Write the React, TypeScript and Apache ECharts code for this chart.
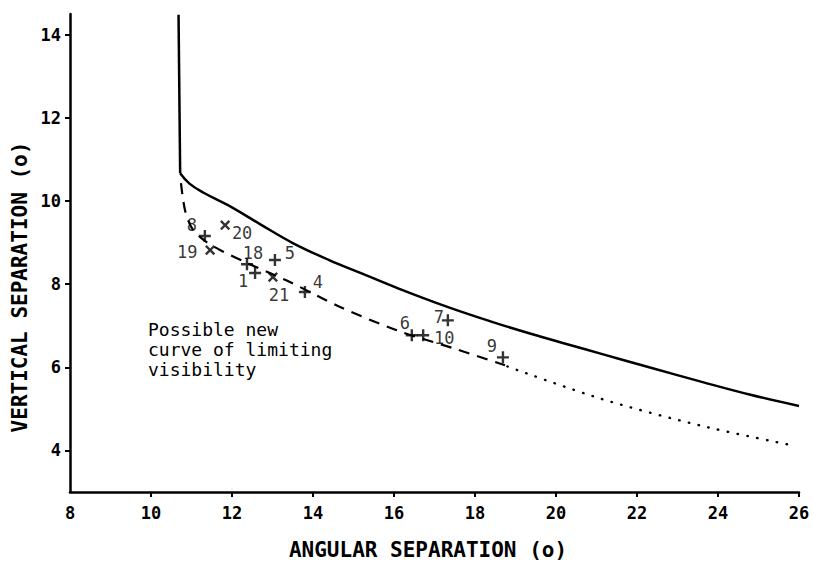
import React, { useEffect, useRef } from "react";
import * as echarts from "echarts";

// Limiting visibility curve (solid): vertical part then curve
const limitVerticalX = [10.68, 10.72];
const limitVerticalY = [14.48, 10.67];
const limitX = [10.72, 10.95, 11.3, 11.9, 12.7, 13.5, 14.4, 15.2, 16.1, 17.3, 18.4, 19.4, 20.3, 21.1, 22.3, 23.6, 24.8, 26.0];
const limitY = [10.67, 10.42, 10.2, 9.9, 9.44, 8.99, 8.58, 8.26, 7.9, 7.46, 7.1, 6.8, 6.55, 6.33, 6.0, 5.65, 5.34, 5.07];

// Possible new curve (dashed)
const newCurveX = [10.74, 10.84, 11.01, 11.33, 11.75, 12.44, 13.43, 14.67, 16.07, 17.46, 18.74];
const newCurveY = [10.43, 9.78, 9.35, 9.04, 8.8, 8.48, 8.05, 7.45, 6.89, 6.46, 6.05];

// Extrapolation (dotted)
const extrapX = [18.8, 21.09, 23.56, 25.85];
const extrapY = [6.02, 5.25, 4.6, 4.12];

// Observations
const pointIds = ["8", "20", "19", "18", "5", "1", "21", "4", "7", "6", "10", "9"];
const pointX = [11.33, 11.83, 11.46, 12.37, 13.06, 12.57, 13.01, 13.8, 17.33, 16.44, 16.72, 18.69];
const pointY = [9.16, 9.42, 8.82, 8.48, 8.58, 8.27, 8.17, 7.81, 7.13, 6.77, 6.77, 6.24];
const pointMark = ["+", "x", "x", "+", "+", "+", "x", "+", "+", "+", "+", "+"];

// Label placement relative to each marker (layout)
const labelOffsets: [number, number][] = [
  [-13, -11], [17, 8], [-23, 2], [6, -11], [15, -7], [-12, 8],
  [6, 18], [13, -10], [-9, -3], [-7, -12], [21, 3], [-11, -11],
];

const xTicks = [8, 10, 12, 14, 16, 18, 20, 22, 24, 26];
const yTicks = [4, 6, 8, 10, 12, 14];

const xTitle = "ANGULAR SEPARATION (o)";
const yTitle = "VERTICAL SEPARATION (o)";
const noteText = "Possible new\ncurve of limiting\nvisibility";

const MONO = "'DejaVu Sans Mono', 'Liberation Mono', monospace";
const PLUS = "path://M4,0L6,0L6,4L10,4L10,6L6,6L6,10L4,10L4,6L0,6L0,4L4,4Z";

const zip = (xs: number[], ys: number[]) => xs.map((x, i) => [x, ys[i]]);

export default function App() {
  const ref = useRef<HTMLDivElement>(null);
  useEffect(() => {
    if (!ref.current) return;
    const chart = echarts.init(ref.current, null, { renderer: "svg" });
    const scatterData = pointIds.map((id, i) => ({
      value: [pointX[i], pointY[i]],
      name: id,
      symbolRotate: pointMark[i] === "x" ? 45 : 0,
      label: { offset: labelOffsets[i] },
    }));
    chart.setOption({
      animation: false,
      backgroundColor: "#fff",
      grid: { left: 70, right: 15, top: 14, bottom: 70 },
      xAxis: {
        type: "value",
        min: 8,
        max: 26,
        interval: 2,
        axisLine: { show: true, onZero: false, lineStyle: { color: "#000", width: 2.5 } },
        axisTick: { show: true, length: 5, lineStyle: { color: "#000", width: 2 }, customValues: xTicks.slice(1) },
        axisLabel: {
          color: "#000",
          fontFamily: MONO,
          fontWeight: "bold",
          fontSize: 17,
          margin: 12,
          showMinLabel: true,
          showMaxLabel: true,
          customValues: xTicks,
        },
        splitLine: { show: false },
      },
      yAxis: {
        type: "value",
        min: 3,
        max: 14.5,
        axisLine: { show: true, onZero: false, lineStyle: { color: "#000", width: 2.5 } },
        axisTick: { show: true, length: 5, lineStyle: { color: "#000", width: 2 }, customValues: yTicks },
        axisLabel: {
          color: "#000",
          fontFamily: MONO,
          fontWeight: "bold",
          fontSize: 17,
          margin: 9,
          customValues: yTicks,
        },
        splitLine: { show: false },
      },
      series: [
        {
          type: "line",
          data: zip(limitVerticalX, limitVerticalY),
          symbol: "none",
          lineStyle: { color: "#000", width: 2.5 },
        },
        {
          type: "line",
          data: zip(limitX, limitY),
          symbol: "none",
          smooth: 0.4,
          lineStyle: { color: "#000", width: 2.5 },
        },
        {
          type: "line",
          data: zip(newCurveX, newCurveY),
          symbol: "none",
          smooth: 0.3,
          lineStyle: { color: "#000", width: 2.2, type: [11, 8] },
        },
        {
          type: "line",
          data: zip(extrapX, extrapY),
          symbol: "none",
          smooth: 0.3,
          lineStyle: { color: "#000", width: 2.4, type: [0.5, 9.5], cap: "round" },
        },
        {
          type: "scatter",
          data: scatterData,
          symbol: PLUS,
          symbolSize: 12,
          itemStyle: { color: "#000" },
          label: {
            show: true,
            position: "inside",
            formatter: (p: any) => p.name,
            color: "#000",
            fontFamily: MONO,
            fontSize: 17,
          },
          z: 5,
        },
      ],
      graphic: [
        {
          type: "text",
          x: 148,
          y: 319,
          style: {
            text: noteText,
            font: `18px ${MONO}`,
            fill: "#000",
            lineHeight: 20,
            verticalAlign: "top",
            align: "left",
          },
        },
        {
          type: "text",
          x: 428,
          y: 550,
          style: {
            text: xTitle,
            font: `bold 21px ${MONO}`,
            fill: "#000",
            align: "center",
            verticalAlign: "middle",
          },
        },
        {
          type: "text",
          x: 20,
          y: 287,
          rotation: Math.PI / 2,
          style: {
            text: yTitle,
            font: `bold 21px ${MONO}`,
            fill: "#000",
            align: "center",
            verticalAlign: "middle",
          },
        },
      ],
    });
    return () => chart.dispose();
  }, []);
  return <div ref={ref} style={{ width: 814, height: 562, position: "absolute", left: 0, top: 0 }} />;
}
